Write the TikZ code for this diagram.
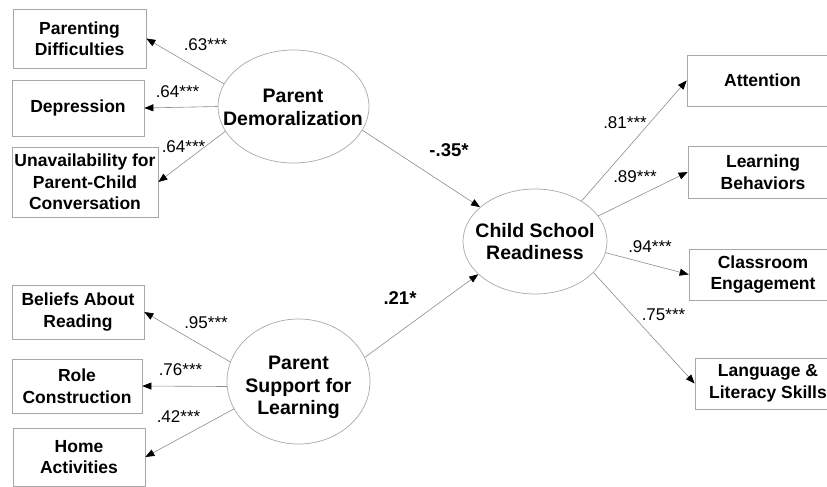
\documentclass[tikz,border=0pt]{standalone}
\usepackage{fontspec}
\setmainfont{Liberation Sans}
\usetikzlibrary{arrows.meta,shapes.geometric}
\definecolor{boxgray}{HTML}{A8A8A8}
\definecolor{linegray}{HTML}{8C8C8C}
\tikzset{
  obsbox/.style={draw=boxgray,line width=0.7pt,rectangle,align=center,inner sep=0pt,
    font=\fontsize{17.5}{21.5}\selectfont\bfseries},
  latent/.style={draw=boxgray,line width=0.7pt,ellipse,inner sep=0pt},
  lattext/.style={align=center,inner sep=0pt,font=\fontsize{19.5}{22.5}\selectfont\bfseries},
  path/.style={draw=linegray,line width=0.6pt,-{Triangle[length=9pt,width=7pt,color=black]}},
  coef/.style={inner sep=0pt,font=\fontsize{17}{20}\selectfont},
  bcoef/.style={inner sep=0pt,font=\fontsize{18.5}{20}\selectfont\bfseries},
}
\begin{document}
\begin{tikzpicture}[x=1pt,y=-1pt]
\useasboundingbox (0,0) rectangle (827,487);
% observed boxes left
\node[obsbox,minimum width=133pt,minimum height=59pt] (pdiff) at (79.5,38.5) {Parenting\\Difficulties};
\node[obsbox,minimum width=132pt,minimum height=56pt] (dep) at (78,108) {Depression};
\node[obsbox,minimum width=146pt,minimum height=70pt] (unav) at (85,182) {Unavailability for\\Parent-Child\\Conversation};
\node[obsbox,minimum width=132pt,minimum height=54pt] (bel) at (78,312) {Beliefs About\\Reading};
\node[obsbox,minimum width=130pt,minimum height=54pt] (role) at (77,386) {Role\\Construction};
\node[obsbox,minimum width=132pt,minimum height=58pt] (home) at (79,457) {Home\\Activities};
% observed boxes right
\node[obsbox,minimum width=151pt,minimum height=51pt] (att) at (762.5,80.5) {Attention};
\node[obsbox,minimum width=150pt,minimum height=52pt] (lb) at (763,172) {Learning\\Behaviors};
\node[obsbox,minimum width=148pt,minimum height=51pt] (ce) at (763,274.5) {Classroom\\Engagement};
\node[obsbox,minimum width=146pt,minimum height=51pt] (lang) at (768,383.5) {Language \&\\Literacy Skills};
% latent ellipses
\node[latent,minimum width=151pt,minimum height=113pt] (pdm) at (293.5,106.5) {};
\node[lattext] (pdmt) at (293,107.5) {Parent\\Demoralization};
\node[latent,minimum width=143pt,minimum height=125pt] (psl) at (298.5,381.5) {};
\node[lattext] (pslt) at (298.5,387.5) {Parent\\Support for\\Learning};
\node[latent,minimum width=144pt,minimum height=105pt] (csr) at (535,241.5) {};
\node[lattext] (csrt) at (535,241.5) {Child School\\Readiness};
% paths
\draw[path] (pdm.162) -- (pdiff.east);
\draw[path] (pdm.180) -- (dep.east);
\draw[path] (pdm.200) -- (unav.east);
\draw[path] (psl.164.5) -- (bel.east);
\draw[path] (psl.184) -- (role.east);
\draw[path] (psl.203) -- (home.east);
\draw[path] (pdm.341) -- (csr.148);
\draw[path] (psl.20) -- (csr.210);
\draw[path] (csr.41.4) -- (att.west);
\draw[path] (csr.22.8) -- (lb.west);
\draw[path] (csr.351) -- (ce.west);
\draw[path] (csr.332) -- (lang.west);
% coefficients
\node[coef] (c1) at (205.5,45) {.63***};
\node[coef] (c2) at (177.5,92) {.64***};
\node[coef] (c3) at (183.5,147) {.64***};
\node[coef] (c4) at (206,323) {.95***};
\node[coef] (c5) at (180.5,370) {.76***};
\node[coef] (c6) at (178.5,417) {.42***};
\node[bcoef] (c7) at (449,150) {-.35*};
\node[bcoef] (c8) at (400,298) {.21*};
\node[coef] (c9) at (625,123) {.81***};
\node[coef] (c10) at (635,177) {.89***};
\node[coef] (c11) at (650,247) {.94***};
\node[coef] (c12) at (663.5,315) {.75***};
\end{tikzpicture}
\end{document}
